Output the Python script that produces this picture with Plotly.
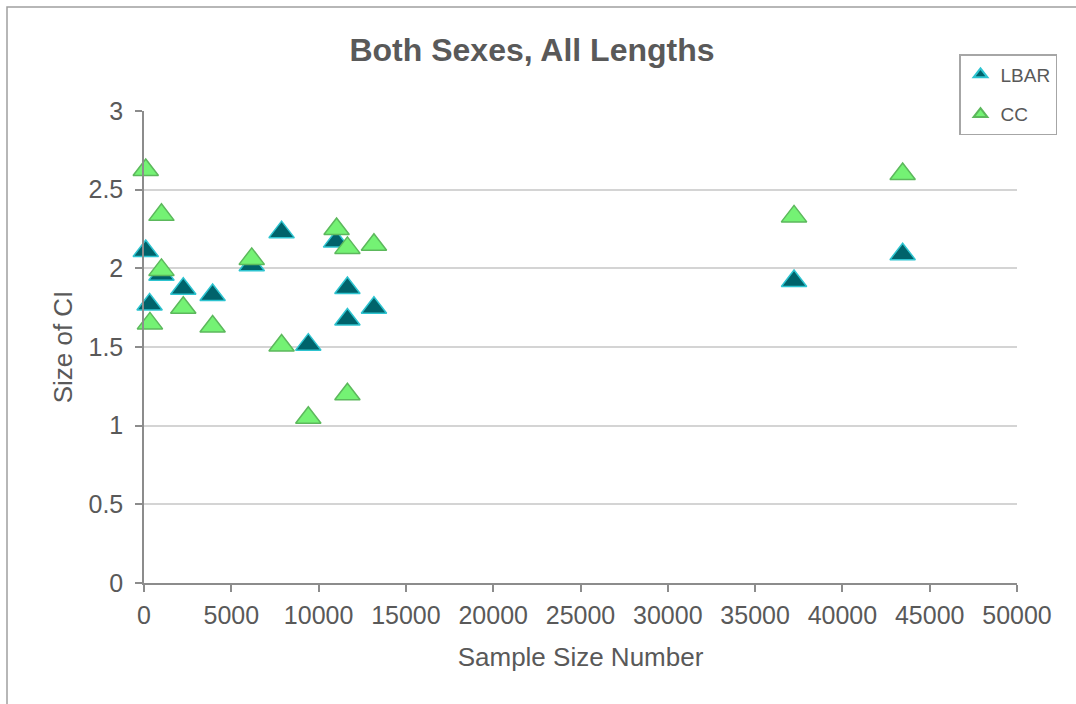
import plotly.graph_objects as go

# ---- data ----
lbar_x = [100, 320, 1000, 2250, 3930, 6170, 7880, 9410, 11000, 11650, 11650, 13170, 37230, 43450]
lbar_y = [2.11, 1.77, 1.96, 1.87, 1.83, 2.02, 2.23, 1.515, 2.17, 1.875, 1.675, 1.75, 1.92, 2.09]

cc_x = [100, 340, 1000, 1000, 2250, 3930, 6170, 7880, 9410, 11030, 11650, 11650, 13170, 37230, 43450]
cc_y = [2.625, 1.65, 2.34, 1.99, 1.75, 1.63, 2.06, 1.51, 1.05, 2.25, 2.13, 1.20, 2.15, 2.33, 2.60]

x_ticks = [0, 5000, 10000, 15000, 20000, 25000, 30000, 35000, 40000, 45000, 50000]
y_ticks = [0, 0.5, 1, 1.5, 2, 2.5, 3]
y_tick_text = ["0", "0.5", "1", "1.5", "2", "2.5", "3"]

title_text = "Both Sexes, All Lengths"
x_title = "Sample Size Number"
y_title = "Size of CI"

W, H = 1076, 704
L, R, T, B = 144, 1076 - 1017, 111, 704 - 583
FONT = "Liberation Sans, Arial, sans-serif"
GREY = "#595959"

fig = go.Figure()
fig.add_trace(go.Scatter(
    x=lbar_x, y=lbar_y, mode="markers", name="LBAR", legendgroup="a",
    marker=dict(symbol="triangle-up", size=22, color="#00636B",
                line=dict(color="#2EC4D0", width=1.5)),
    cliponaxis=False,
))
fig.add_trace(go.Scatter(
    x=cc_x, y=cc_y, mode="markers", name="CC", legendgroup="b",
    marker=dict(symbol="triangle-up", size=22, color="#74F274",
                line=dict(color="#5CB85C", width=1.5)),
    cliponaxis=False,
))

fig.update_layout(
    width=W, height=H,
    margin=dict(l=L, r=R, t=T, b=B, autoexpand=False),
    paper_bgcolor="white", plot_bgcolor="white",
    font=dict(family=FONT, color=GREY, size=25),
    title=dict(text="<b>" + title_text + "</b>", x=532 / W, xref="container", xanchor="center",
               y=1 - 50 / H, yref="container", yanchor="middle",
               font=dict(family=FONT, size=32, color=GREY)),
    showlegend=True,
    legend=dict(x=(959 - L) / (W - L - R), xanchor="left",
                y=(583 - 54) / (583 - 111), yanchor="top",
                bordercolor="#A6A6A6", borderwidth=1.5, bgcolor="white",
                font=dict(family=FONT, size=19, color=GREY),
                itemsizing="constant", tracegroupgap=12),
    xaxis=dict(range=[0, 50000], tickmode="array", tickvals=x_ticks,
               tickformat="d", showgrid=False, zeroline=False,
               showline=True, linecolor="#8C8C8C", linewidth=1.5,
               ticks="outside", ticklen=7, tickwidth=1.5, tickcolor="#8C8C8C",
               ticklabelstandoff=2,
               tickfont=dict(family=FONT, size=25, color=GREY),
               title=dict(text=x_title, standoff=20,
                          font=dict(family=FONT, size=26, color=GREY))),
    yaxis=dict(range=[0, 3], tickmode="array", tickvals=y_ticks, ticktext=y_tick_text,
               showgrid=True, gridcolor="#D4D4D4", gridwidth=1.5, zeroline=False,
               showline=True, linecolor="#8C8C8C", linewidth=1.5,
               ticks="outside", ticklen=7, tickwidth=1.5, tickcolor="#8C8C8C",
               ticklabelstandoff=7,
               tickfont=dict(family=FONT, size=25, color=GREY),
               title=dict(text=y_title, standoff=8,
                          font=dict(family=FONT, size=26, color=GREY))),
)

# outer chart-area border (extends past the right and bottom edges of the view)
fig.add_shape(type="rect", xref="paper", yref="paper", layer="below",
              x0=(7 - L) / (W - L - R), x1=1.2,
              y0=-0.4, y1=(583 - 7) / (583 - 111),
              line=dict(color="#A0A0A0", width=1.5), fillcolor="rgba(0,0,0,0)")

fig.write_html("out.html")
